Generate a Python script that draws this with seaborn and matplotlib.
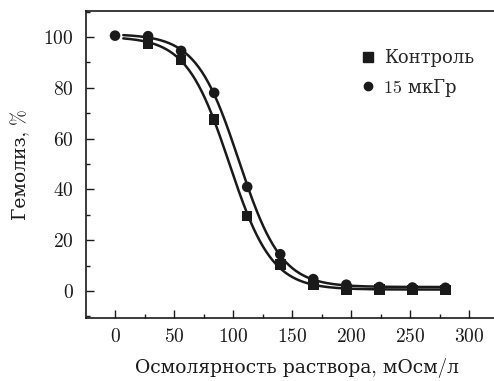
import numpy as np
import pandas as pd
import matplotlib
matplotlib.use("Agg")
import matplotlib.pyplot as plt
from matplotlib.lines import Line2D
from matplotlib.ticker import MultipleLocator
import seaborn as sns

# ---- data ----
osm_control = [28, 56, 84, 112, 140, 168, 196, 224, 252, 280]
hem_control = [97.5, 91.0, 67.5, 29.5, 10.5, 2.4, 0.7, 0.6, 0.4, 0.4]
osm_dose = [0, 28, 56, 84, 112, 140, 168, 196, 224, 252, 280]
hem_dose = [100.5, 100.3, 94.5, 78.0, 41.0, 14.5, 4.7, 2.5, 1.6, 1.4, 1.3]
series_names = ["Контроль", "15 мкГр"]
x_ticks = [0, 50, 100, 150, 200, 250, 300]
y_ticks = [0, 20, 40, 60, 80, 100]
xlabel = "Осмолярность раствора, мОсм/л"
ylabel = "Гемолиз, %"
curve_start = 7


def boltzmann_fit(x, y):
    """Least-squares Boltzmann sigmoid fit (grid over x0, dx; linear in A1, A2)."""
    x = np.asarray(x, float)
    y = np.asarray(y, float)
    best = None
    for x0 in np.arange(70, 130, 0.1):
        for dx in np.arange(5, 30, 0.1):
            s = 1.0 / (1.0 + np.exp((x - x0) / dx))
            A = np.vstack([s, np.ones_like(s)]).T
            coef, *_ = np.linalg.lstsq(A, y, rcond=None)
            r = np.sum((A @ coef - y) ** 2)
            if best is None or r < best[0]:
                best = (r, x0, dx, coef)
    _, x0, dx, (amp, base) = best
    return lambda t: base + amp / (1.0 + np.exp((t - x0) / dx))


sns.set_theme(style="ticks")
plt.rcParams["font.family"] = ["cmr10", "DejaVu Serif"]
plt.rcParams["axes.formatter.use_mathtext"] = True

INK = "#1a1a1a"
fig = plt.figure(figsize=(4.94, 3.81), dpi=100)
ax = fig.add_axes([86 / 494, 63 / 381, (508 - 86) / 494, 307 / 381])

pts = pd.concat([
    pd.DataFrame({"x": osm_control, "y": hem_control, "g": series_names[0]}),
    pd.DataFrame({"x": osm_dose, "y": hem_dose, "g": series_names[1]}),
])

curves = []
for name, xs, ys in [(series_names[0], osm_control, hem_control),
                     (series_names[1], osm_dose, hem_dose)]:
    f = boltzmann_fit(xs, ys)
    t = np.linspace(curve_start, max(xs), 300)
    curves.append(pd.DataFrame({"x": t, "y": f(t), "g": name}))
curves = pd.concat(curves)

sns.lineplot(data=curves, x="x", y="y", units="g", estimator=None,
             color=INK, lw=1.8, ax=ax, legend=False)
sns.scatterplot(data=pts, x="x", y="y", style="g",
                markers={series_names[0]: "s", series_names[1]: "o"},
                color=INK, edgecolor=INK, s=58,
                linewidth=0, ax=ax, legend=False, zorder=3)

ax.set_xlim(-24.6, 333)
ax.set_ylim(-10.6, 110.2)
ax.set_xticks(x_ticks)
ax.set_yticks(y_ticks)
ax.xaxis.set_minor_locator(MultipleLocator(25))
ax.yaxis.set_minor_locator(MultipleLocator(10))
ax.tick_params(which="both", direction="in", colors=INK, labelsize=14,
               width=1.0)
ax.tick_params(which="major", length=6)
ax.tick_params(which="minor", length=3)
ax.tick_params(axis="y", pad=9)
ax.tick_params(axis="x", pad=7)
for sp in ax.spines.values():
    sp.set_color(INK)
    sp.set_linewidth(1.2)
ax.spines["right"].set_visible(False)

ax.set_xlabel(xlabel, fontsize=13.5, labelpad=9, color=INK)
ax.set_ylabel(ylabel, fontsize=13.5, labelpad=9, color=INK)

handles = [Line2D([], [], ls="none", marker="s", ms=7, color=INK),
           Line2D([], [], ls="none", marker="o", ms=6, color=INK)]
leg = ax.legend(handles, series_names, loc="upper left",
                bbox_to_anchor=((359.5 - 86) / 422, (318 - 49) / 307),
                frameon=False, fontsize=13, handlelength=0.9,
                handletextpad=0.45, borderpad=0, borderaxespad=0,
                labelspacing=0.65)

fig.savefig("out.png", dpi=100)
